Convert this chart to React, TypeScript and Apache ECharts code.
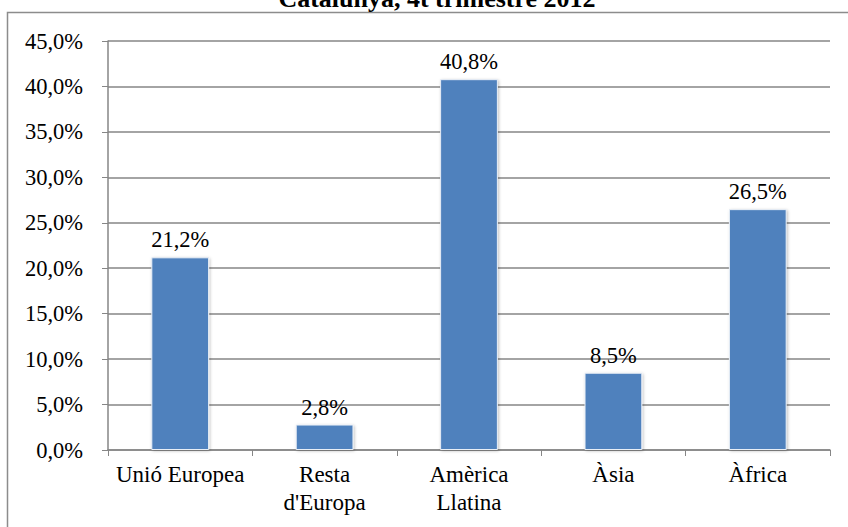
import React, { useEffect, useRef } from "react";
import * as echarts from "echarts";

const titleText = "Catalunya, 4t trimestre 2012";
const categories = ["Unió Europea", "Resta\nd'Europa", "Amèrica\nLlatina", "Àsia", "Àfrica"];
const values = [21.2, 2.8, 40.8, 8.5, 26.5];

const fmt = (v: number) => v.toFixed(1).replace(".", ",") + "%";

export default function App() {
  const ref = useRef<HTMLDivElement>(null);
  useEffect(() => {
    if (!ref.current) return;
    const chart = echarts.init(ref.current, null, { renderer: "svg" });
    const font = "Liberation Serif";
    chart.setOption({
      animation: false,
      backgroundColor: "#ffffff",
      textStyle: { fontFamily: font },
      graphic: [
        {
          type: "rect",
          shape: { x: 7.5, y: 12.5, width: 860, height: 540 },
          style: { fill: "none", stroke: "#8c8c8c", lineWidth: 1.5 },
          z: -1,
        },
        {
          type: "text",
          x: 437,
          y: -2,
          style: {
            text: titleText,
            fontFamily: font,
            fontSize: 26,
            fontWeight: "bold",
            fill: "#000",
            textAlign: "center",
            textVerticalAlign: "middle",
          },
        },
      ],
      grid: { left: 108, right: 18, top: 41, bottom: 77 },
      xAxis: {
        type: "category",
        data: categories,
        axisLine: { lineStyle: { color: "#868686", width: 1.5 } },
        axisTick: { show: true, length: 6, alignWithLabel: false, lineStyle: { color: "#868686" } },
        axisLabel: { color: "#000", fontSize: 23, fontFamily: font, lineHeight: 28, margin: 10, interval: 0 },
      },
      yAxis: {
        type: "value",
        min: 0,
        max: 45,
        interval: 5,
        axisLine: { show: true, lineStyle: { color: "#868686", width: 1.5 } },
        axisTick: { show: true, length: 6, lineStyle: { color: "#868686" } },
        splitLine: { lineStyle: { color: "#868686", width: 1.5 } },
        axisLabel: { color: "#000", fontSize: 22.5, fontFamily: font, margin: 25, formatter: (v: number) => fmt(v) },
      },
      series: [
        {
          type: "bar",
          data: values,
          barWidth: "40%",
          itemStyle: {
            color: "#4f81bd",
            borderColor: "#e8eef6",
            borderWidth: 1,
            shadowColor: "rgba(0,0,0,0.25)",
            shadowBlur: 3,
            shadowOffsetX: 1,
            shadowOffsetY: 1,
          },
          label: {
            show: true,
            position: "top",
            distance: 6,
            color: "#000",
            fontSize: 22.5,
            fontFamily: font,
            formatter: (p: any) => fmt(p.value),
          },
        },
      ],
    });
    return () => chart.dispose();
  }, []);
  return <div ref={ref} style={{ width: 848, height: 527, position: "absolute", left: 0, top: 0 }} />;
}
